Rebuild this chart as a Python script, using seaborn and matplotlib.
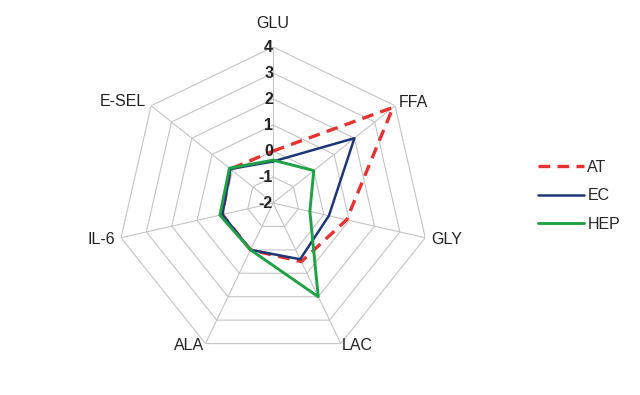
import numpy as np
import pandas as pd
import matplotlib
matplotlib.use("Agg")
import matplotlib.pyplot as plt
import matplotlib.transforms as mtransforms
import seaborn as sns

# radar axes (clockwise from top)
categories = ["GLU", "FFA", "GLY", "LAC", "ALA", "IL-6", "E-SEL"]
levels = [-2, -1, 0, 1, 2, 3, 4]

at_values = [0.0, 3.9, 0.9, 0.5, 0.0, 0.0, 0.1]
ec_values = [-0.4, 2.0, 0.2, 0.4, 0.0, 0.0, 0.1]
hep_values = [-0.35, 0.0, -0.55, 2.0, 0.0, 0.1, 0.15]

series_names = ["AT", "EC", "HEP"]
series_values = [at_values, ec_values, hep_values]

sns.set_style("white")
plt.rcParams["font.family"] = ["Liberation Sans", "DejaVu Sans"]

colors = {"AT": "#e8322f", "EC": "#1c3677", "HEP": "#1fa245"}
widths = {"AT": 2.4, "EC": 1.8, "HEP": 2.1}
dashes = {"AT": (3.5, 2.2), "EC": None, "HEP": None}

n = len(categories)
theta = np.linspace(0, 2 * np.pi, n, endpoint=False)
theta_closed = np.append(theta, theta[0] + 2 * np.pi)

fig = plt.figure(figsize=(6.4, 3.95), dpi=100)
ax = fig.add_axes([0.183, 0.091, 0.4875, 0.79], projection="polar")
ax.set_theta_zero_location("N")
ax.set_theta_direction(-1)
ax.set_ylim(levels[0], levels[-1])
ax.grid(False)
ax.spines["polar"].set_visible(False)
ax.set_xticks([])
ax.set_yticks([])
ax.patch.set_alpha(0)

# heptagon grid + spokes
for lv in levels[1:]:
    ax.plot(theta_closed, [lv] * (n + 1), color="#c4c4c4", lw=0.8, zorder=1)
for t in theta:
    ax.plot([t, t], [levels[0], levels[-1]], color="#c4c4c4", lw=0.8, zorder=1)

# data polygons
for name, vals in zip(series_names, series_values):
    df = pd.DataFrame({"theta": theta_closed, "value": vals + [vals[0]]})
    sns.lineplot(data=df, x="theta", y="value", ax=ax, sort=False, estimator=None,
                 color=colors[name], lw=widths[name], label=name, zorder=3)
    line = ax.lines[-1]
    if dashes[name]:
        line.set_dashes(dashes[name])

ax.set_xlabel("")
ax.set_ylabel("")

# value labels along the GLU axis
off = mtransforms.offset_copy(ax.transData, fig=fig, x=0, y=0, units="points")
for lv in levels:
    ax.text(0, lv, str(lv), transform=off, ha="right", va="center",
            fontsize=11.5, fontweight="bold", color="#222222", zorder=4)

# category labels
label_pos = {
    "GLU": (4.92, "center", "center"),
    "FFA": (4.2, "left", "center"),
    "GLY": (4.25, "left", "center"),
    "LAC": (4.1, "left", "center"),
    "ALA": (4.1, "right", "center"),
    "IL-6": (4.25, "right", "center"),
    "E-SEL": (4.25, "right", "center"),
}
for t, cat in zip(theta, categories):
    r, ha, va = label_pos[cat]
    ax.text(t, r, cat, ha=ha, va=va, fontsize=11.5, color="#222222")

ax.legend_.remove()
handles = ax.lines[-3:]
fig.legend(handles, series_names, loc="upper left", bbox_to_anchor=(0.818, 0.632),
           frameon=False, fontsize=11.5, handlelength=2.9, handletextpad=0.2,
           labelspacing=0.85)

fig.savefig("out.png", dpi=100)
